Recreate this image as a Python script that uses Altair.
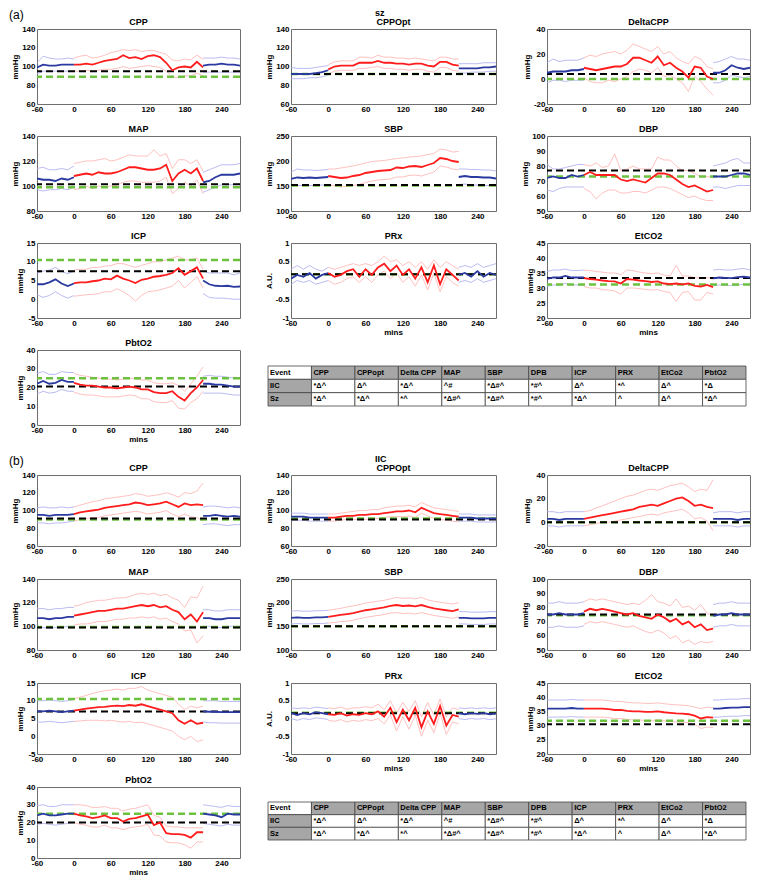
import altair as alt
import pandas as pd

FONT = "Liberation Sans"
BLUE = "#2b3aa0"
RED = "#ff1c1c"
LBLUE = "#a9a9ee"
LRED = "#ffb0b0"
GREEN = "#6cc13f"
BLACK = "#000000"
GRAY = "#a6a6a6"

# ---------------- time axes (minutes) ----------------
X_PRE = [-60, -50, -40, -30, -20, -10, 0]
X_EVT = [0, 10, 20, 30, 40, 50, 60, 70, 80, 90, 100, 110, 120, 130, 140, 150, 160, 170, 180, 190, 200, 210]
X_POST = [210, 220, 230, 240, 250, 260, 270]
X_TICKS = [-60, 0, 60, 120, 180, 240]

# ---------------- (a) sz ----------------
A_CPP_M = [99, 102, 101, 101, 102, 102, 102,
           102, 102, 103, 102, 104, 106, 107, 108, 112, 109, 110, 108, 111, 112, 110, 104, 96, 99, 100, 99, 105, 99,
           101, 102, 102, 103, 102, 102, 101]
A_CPP_U = [104, 111, 109, 108, 108, 109, 108,
           109, 111, 112, 109, 110, 112, 115, 116, 118, 117, 118, 116, 117, 117, 115, 113, 107, 106, 108, 107, 112, 108,
           109, 109, 109, 110, 109, 109, 108]
A_CPP_L = [92, 95, 95, 95, 95, 95, 95,
           95, 95, 96, 95, 96, 97, 97, 98, 100, 98, 99, 100, 101, 100, 99, 95, 89, 88, 90, 90, 93, 90,
           94, 94, 94, 94, 94, 94, 94]
A_CPP_T = [95, 89]

A_CPPOPT_M = [92, 92, 92, 92, 93, 94, 96,
              97, 100, 101, 101, 101, 104, 104, 104, 106, 104, 104, 103, 103, 102, 103, 103, 101, 100, 105, 105, 102, 101,
              98, 98, 98, 98, 99, 99, 100]
A_CPPOPT_U = [99, 98, 98, 98, 99, 100, 101,
              102, 105, 106, 106, 106, 110, 110, 109, 112, 110, 110, 109, 109, 108, 109, 108, 107, 106, 110, 110, 108, 108,
              103, 103, 103, 103, 104, 104, 104]
A_CPPOPT_L = [87, 87, 87, 88, 88, 89, 91,
              92, 95, 96, 96, 96, 98, 98, 99, 100, 98, 98, 97, 97, 96, 97, 97, 95, 94, 99, 99, 96, 95,
              93, 93, 94, 94, 94, 95, 95]
A_CPPOPT_T = [92, 92]

A_DCPP_M = [5, 6, 6, 6, 7, 7, 8,
            9, 8, 7, 8, 9, 10, 10, 12, 17, 17, 15, 13, 18, 11, 13, 9, 6, 1, 10, 9, 2, 0,
            5, 5, 7, 11, 9, 8, 9]
A_DCPP_U = [13, 16, 14, 15, 15, 15, 17,
            17, 19, 18, 20, 21, 22, 20, 23, 28, 26, 24, 22, 26, 20, 22, 17, 14, 12, 18, 16, 10, 8,
            13, 14, 16, 18, 16, 16, 15]
A_DCPP_L = [-3, -1, -1, -2, -1, -1, -1,
            1, -2, -3, -3, -1, -2, 0, 2, 6, 8, 7, 5, 9, 2, 3, 0, -3, -10, 2, -2, -8, -13,
            -3, -3, -1, 3, 2, 1, 2]
A_DCPP_T = [4, 0]

A_MAP_M = [106, 105, 105, 104, 106, 105, 107,
           108, 109, 110, 109, 111, 110, 110, 111, 113, 115, 115, 114, 113, 113, 114, 117, 104, 110, 113, 110, 114, 104,
           103, 104, 107, 109, 109, 109, 110]
A_MAP_U = [114, 115, 113, 113, 114, 113, 116,
           118, 119, 120, 120, 121, 122, 120, 121, 123, 125, 124, 124, 124, 129, 124, 126, 114, 121, 121, 118, 121, 112,
           111, 113, 115, 117, 117, 117, 118]
A_MAP_L = [97, 96, 97, 97, 98, 97, 99,
           97, 98, 100, 98, 100, 99, 100, 101, 103, 104, 104, 103, 103, 103, 104, 107, 94, 98, 103, 100, 105, 94,
           95, 97, 99, 101, 101, 101, 102]
A_MAP_T = [101.5, 99]

A_SBP_M = [164, 167, 166, 167, 166, 167, 168,
           170, 168, 166, 167, 170, 172, 176, 178, 180, 181, 182, 187, 186, 189, 190, 188, 192, 196, 206, 204, 200, 198,
           168, 170, 168, 168, 167, 167, 165]
A_SBP_U = [178, 184, 182, 182, 181, 182, 183,
           184, 184, 186, 188, 190, 193, 196, 199, 200, 201, 203, 205, 206, 208, 209, 210, 213, 215, 224, 222, 218, 219,
           184, 184, 183, 183, 182, 182, 180]
A_SBP_L = [150, 151, 151, 151, 151, 152, 153,
           152, 150, 148, 149, 151, 153, 157, 160, 162, 163, 164, 168, 168, 171, 172, 170, 174, 178, 190, 188, 184, 182,
           153, 154, 152, 152, 151, 151, 150]
A_SBP_T = [152, 151]

A_DBP_M = [72, 73, 72, 72, 74, 73, 74,
           74, 76, 74, 74, 74, 74, 71, 70, 71, 70, 69, 72, 75, 75, 74, 71, 68, 66, 67, 65, 63, 64,
           73, 73, 73, 74, 75, 75, 74]
A_DBP_U = [81, 78, 78, 79, 80, 81, 81,
           81, 80, 82, 79, 80, 88, 77, 78, 80, 78, 78, 78, 86, 84, 84, 80, 77, 77, 75, 73, 73, 72,
           80, 81, 82, 84, 85, 82, 82]
A_DBP_L = [64, 63, 65, 66, 66, 66, 66,
           65, 63, 58, 62, 64, 64, 62, 62, 63, 63, 62, 64, 66, 66, 65, 63, 61, 59, 60, 58, 57, 57,
           66, 66, 65, 66, 67, 67, 67]
A_DBP_T = [77, 73]

A_ICP_M = [4, 4, 4.5, 5.3, 4.2, 3.5, 4.2,
           4.3, 4.5, 4.5, 4.8, 5, 5.5, 5.3, 6.3, 5.5, 5, 4.3, 5.2, 5.5, 6, 6.2, 6.5, 7, 8.3, 6.5, 7.5, 8.5, 5.5,
           5, 4, 3.6, 3.5, 3.6, 3.3, 3.4]
A_ICP_U = [7, 7.5, 7.8, 8.5, 7.5, 6.8, 7.5,
           7.8, 8, 8, 8.5, 8.5, 8.8, 9, 9.5, 9.5, 9, 8.5, 9, 9.5, 10, 10, 10.5, 11, 11.5, 10.5, 10.5, 11, 8,
           7.5, 7, 7, 7, 7, 6.5, 7]
A_ICP_L = [1.2, 0.5, 1, 2, 1, 0.3, 1,
           0.8, 1, 1.2, 1.3, 1.5, 2, 2, 2.8, 2, 1, -0.5, 1, 2, 2.2, 2.5, 3, 3.5, 5, 3, 4.5, 6, 3,
           1.5, 0.5, 0.3, 0.3, 0.2, 0, 0]
A_ICP_T = [7.5, 10.5]

A_PRX_M = [0.05, 0.15, 0.1, 0.2, 0.05, 0.15, 0.2,
           0.2, 0.1, 0.15, 0.25, 0.3, 0.1, 0.3, 0.15, 0.35, 0.45, 0.25, 0.4, 0.15, 0.3, 0.05, 0.35, -0.05, 0.4, -0.1, 0.3, 0.15, 0.0,
           0.15, 0.2, 0.1, 0.25, 0.1, 0.2, 0.15]
A_PRX_U = [0.3, 0.4, 0.3, 0.4, 0.3, 0.25, 0.35,
           0.35, 0.3, 0.35, 0.4, 0.45, 0.4, 0.45, 0.4, 0.5, 0.65, 0.5, 0.55, 0.4, 0.5, 0.35, 0.5, 0.3, 0.55, 0.35, 0.5, 0.4, 0.3,
           0.35, 0.4, 0.35, 0.45, 0.35, 0.4, 0.45]
A_PRX_L = [-0.1, 0.0, -0.05, 0.0, -0.1, -0.05, 0.0,
           0.0, -0.1, -0.05, 0.05, 0.1, -0.05, 0.1, -0.05, 0.15, 0.25, 0.05, 0.2, -0.05, 0.1, -0.15, 0.15, -0.25, 0.2, -0.3, 0.1, -0.05, -0.15,
           -0.05, 0.0, -0.05, 0.05, -0.05, 0.0, 0.05]
A_PRX_T = [0.17, 0.17]

A_ETCO2_M = [33, 33.5, 33.5, 34, 33.5, 33.5, 33.5,
             33.3, 33, 32.8, 32.5, 32.3, 32.2, 31.5, 33, 32.8, 32.5, 32.3, 32, 32.2, 31.5, 31.3, 31.5, 31.2, 31.5, 30.7, 30.5, 31, 30.3,
             33.2, 33.5, 33.4, 33.3, 33.6, 33.8, 33.5]
A_ETCO2_U = [35.5, 36, 36, 36.3, 35.8, 35.8, 36,
             36, 35.8, 35.5, 35.3, 35, 35, 34.5, 36, 35.8, 35.3, 35, 34.8, 35, 34.3, 34, 37.5, 34, 34, 33.5, 33.3, 33.5, 33,
             36, 36.2, 36, 36, 36.3, 36.5, 36]
A_ETCO2_L = [30.5, 31, 31, 31.5, 31, 31, 31,
             30.5, 30, 30, 29.5, 29.3, 29, 28, 30, 30, 29.8, 29.5, 29.3, 29.5, 28.8, 28.5, 25.5, 28.5, 28.8, 26, 26, 28.5, 28,
             30.8, 31, 31, 30.8, 31, 31.3, 31]
A_ETCO2_T = [33.3, 31.2]

A_PBTO2_M = [22, 23.5, 22, 22.5, 24, 23, 23,
             22.5, 21.5, 21, 21, 20.5, 20, 20, 19.5, 20, 20.5, 20, 19, 19, 17.5, 17, 17, 18, 15, 13, 17, 20, 24,
             22, 22, 21.5, 21.5, 21, 20.5, 20.5]
A_PBTO2_U = [27.5, 28.5, 27, 27, 28.5, 28, 28,
             27.5, 26.5, 26, 25.5, 25, 24.5, 24.5, 24, 24.5, 25, 24.5, 24, 24, 22.5, 22, 22, 22.5, 21, 18, 22, 26, 31,
             26, 26.5, 26, 26, 25.5, 25, 25]
A_PBTO2_L = [16.5, 18, 17, 17.5, 19, 18, 18,
             17.5, 16.5, 16, 16, 15.5, 15, 15, 15, 15.5, 16, 15.5, 14, 14, 12.5, 12, 12, 13, 9, 8.5, 12, 14, 18,
             17, 17, 17, 17, 16.5, 16, 16]
A_PBTO2_T = [20.5, 25]

# ---------------- (b) IIC ----------------
B_CPP_M = [95, 95, 94, 95, 95, 95, 96,
           96, 98, 99, 100, 101, 103, 104, 105, 106, 107, 109, 108, 106, 107, 108, 110, 107, 104, 108, 106, 107, 106,
           94, 94, 95, 94, 93, 94, 93]
B_CPP_U = [103, 104, 103, 103, 104, 103, 104,
           104, 106, 108, 110, 111, 113, 114, 115, 116, 117, 119, 118, 116, 117, 118, 120, 118, 115, 120, 119, 122, 131,
           104, 105, 105, 104, 103, 104, 103]
B_CPP_L = [86, 86, 85, 86, 86, 87, 88,
           88, 90, 91, 92, 92, 94, 95, 96, 97, 98, 99, 98, 96, 97, 98, 100, 96, 93, 96, 93, 92, 88,
           84, 85, 85, 84, 83, 84, 84]
B_CPP_T = [91, 90]

B_CPPOPT_M = [93, 93, 93, 92, 92, 92, 92,
              92, 92, 93, 94, 94, 95, 95, 96, 96, 97, 98, 99, 99, 100, 98, 103, 100, 97, 96, 95, 94, 93,
              92, 92, 92, 91, 91, 91, 91]
B_CPPOPT_U = [97, 97, 97, 96, 96, 96, 96,
              96, 96, 97, 98, 99, 100, 100, 101, 101, 103, 104, 105, 105, 106, 104, 109, 106, 103, 102, 101, 100, 99,
              96, 96, 96, 95, 95, 95, 95]
B_CPPOPT_L = [89, 89, 89, 88, 88, 88, 88,
              88, 88, 89, 90, 90, 90, 90, 91, 91, 92, 93, 93, 93, 94, 92, 97, 94, 91, 90, 89, 88, 87,
              88, 88, 88, 87, 87, 87, 87]
B_CPPOPT_T = [90, 91]

B_DCPP_M = [3, 3, 2, 3, 3, 3, 3,
            3, 4, 5, 6, 7, 8, 9, 10, 11, 13, 14, 15, 14, 16, 18, 20, 21, 18, 14, 15, 13, 12,
            3, 3, 3, 3, 2, 3, 3]
B_DCPP_U = [9, 9, 8, 9, 9, 9, 9,
            9, 10, 12, 14, 16, 18, 20, 22, 23, 25, 27, 28, 27, 29, 31, 32, 33, 30, 26, 28, 27, 36,
            8, 9, 9, 9, 8, 9, 9]
B_DCPP_L = [-3, -3, -4, -3, -3, -3, -3,
            -3, -2, -1, 0, 0, 1, 2, 3, 4, 5, 6, 7, 6, 8, 9, 10, 11, 8, 3, 4, 1, -7,
            -3, -3, -3, -3, -4, -3, -3]
B_DCPP_T = [0, 0]

B_MAP_M = [107, 107, 106, 107, 107, 108, 108,
           109, 110, 111, 112, 113, 113, 114, 115, 115, 116, 117, 118, 117, 118, 116, 117, 114, 112, 106, 110, 104, 112,
           107, 107, 106, 106, 107, 107, 107]
B_MAP_U = [115, 115, 114, 115, 115, 116, 116,
           117, 118, 120, 121, 122, 122, 123, 124, 124, 125, 127, 128, 127, 128, 126, 127, 124, 122, 116, 125, 124, 134,
           114, 114, 113, 113, 114, 114, 114]
B_MAP_L = [99, 99, 98, 99, 99, 100, 100,
           101, 102, 102, 103, 104, 104, 105, 106, 106, 107, 107, 108, 107, 108, 106, 107, 104, 102, 96, 97, 86, 92,
           100, 100, 99, 99, 100, 100, 100]
B_MAP_T = [99, 99.5]

B_SBP_M = [168, 169, 168, 168, 169, 169, 170,
           170, 172, 174, 176, 178, 181, 184, 186, 188, 190, 193, 195, 193, 194, 192, 195, 191, 188, 186, 184, 182, 186,
           168, 168, 167, 167, 167, 168, 168]
B_SBP_U = [182, 183, 182, 182, 183, 183, 184,
           184, 186, 188, 191, 193, 196, 199, 201, 203, 205, 208, 211, 209, 210, 208, 211, 206, 203, 201, 199, 197, 200,
           181, 181, 180, 180, 180, 181, 181]
B_SBP_L = [155, 156, 155, 155, 156, 156, 157,
           157, 158, 160, 161, 163, 166, 169, 171, 173, 175, 178, 179, 177, 178, 176, 179, 176, 173, 171, 169, 167, 170,
           155, 155, 154, 154, 154, 155, 155]
B_SBP_T = [150, 150]

B_DBP_M = [75, 75, 76, 75, 75, 75, 76,
           77, 79, 78, 79, 78, 77, 76, 75, 76, 74, 73, 72, 75, 73, 70, 72, 68, 70, 66, 68, 64, 65,
           74, 75, 75, 76, 75, 75, 75]
B_DBP_U = [83, 83, 84, 83, 83, 83, 84,
           84, 86, 85, 86, 85, 84, 83, 82, 83, 82, 85, 89, 84, 83, 81, 86, 80, 81, 78, 82, 76, 74,
           82, 83, 83, 84, 83, 83, 83]
B_DBP_L = [66, 66, 67, 66, 66, 66, 67,
           68, 70, 69, 70, 69, 68, 67, 66, 67, 65, 63, 62, 64, 62, 58, 60, 55, 57, 54, 56, 55, 56,
           66, 67, 67, 68, 67, 67, 67]
B_DBP_T = [75, 74.5]

B_ICP_M = [7, 7, 7.2, 7, 6.8, 7, 7.2,
           7.2, 7.5, 7.8, 8, 8.2, 8.3, 8.5, 8.6, 8.5, 8.8, 8.6, 9, 8.5, 8, 7.5, 7, 6.5, 4.5, 3.5, 4.5, 3.5, 3.8,
           7, 6.9, 6.9, 6.8, 6.8, 6.8, 6.8]
B_ICP_U = [10, 10, 10.2, 10, 9.8, 10, 10.3,
           10.5, 11, 11.5, 12, 12.5, 12.8, 13, 13.3, 13, 13.5, 13.5, 14, 13, 12.5, 12, 11.5, 11, 9, 7.5, 8.5, 8, 8.5,
           10, 10, 10, 9.8, 9.8, 9.8, 9.8]
B_ICP_L = [4, 4, 4.2, 4, 3.8, 4, 4.2,
           4.2, 4.3, 4.5, 4.5, 4.5, 4.3, 4.5, 4.2, 4, 4.2, 3.8, 4, 3.5, 3, 2.5, 2, 1.5, 0, -1, 0, -1.5, -1,
           4, 3.8, 3.8, 3.7, 3.7, 3.7, 3.7]
B_ICP_T = [7, 10.5]

B_PRX_M = [0.15, 0.1, 0.15, 0.12, 0.18, 0.15, 0.12,
           0.12, 0.1, 0.15, 0.08, 0.12, 0.1, 0.15, 0.12, 0.2, 0.05, 0.3, -0.1, 0.25, -0.05, 0.3, -0.25, 0.2, -0.15, 0.35, -0.2, 0.1, 0.05,
           0.15, 0.12, 0.15, 0.13, 0.15, 0.12, 0.14]
B_PRX_U = [0.3, 0.28, 0.3, 0.28, 0.32, 0.3, 0.28,
           0.3, 0.28, 0.32, 0.26, 0.3, 0.3, 0.33, 0.3, 0.4, 0.25, 0.5, 0.15, 0.45, 0.2, 0.5, 0.05, 0.45, 0.1, 0.55, 0.05, 0.3, 0.25,
           0.3, 0.28, 0.3, 0.28, 0.3, 0.28, 0.3]
B_PRX_L = [0, -0.05, 0, -0.03, 0.02, 0, -0.03,
           -0.05, -0.08, -0.03, -0.1, -0.05, -0.08, -0.03, -0.06, 0, -0.15, 0.1, -0.35, 0.05, -0.3, 0.1, -0.5, -0.05, -0.4, 0.15, -0.45, -0.1, -0.15,
           0, -0.03, 0, -0.02, 0, -0.03, -0.01]
B_PRX_T = [0.15, 0.16]

B_ETCO2_M = [36, 36, 36, 36, 36.2, 36, 36,
             36, 36, 36, 36, 35.8, 35.5, 35.5, 35.2, 35, 35, 34.8, 34.8, 35, 34.7, 34.5, 34.3, 34.2, 34, 33.5, 32.5, 33, 32.8,
             36, 36, 36.2, 36.3, 36.3, 36.5, 36.5]
B_ETCO2_U = [39, 39, 39, 39, 39.2, 39, 39,
             39, 39, 39, 39, 38.8, 38.5, 38.5, 38.2, 38, 38, 37.8, 37.8, 38, 37.7, 37.5, 37.3, 37.2, 37, 36.5, 36, 36.5, 36.3,
             39, 39, 39.2, 39.3, 39.3, 39.5, 39.5]
B_ETCO2_L = [33, 33, 33, 33, 33.2, 33, 33,
             33, 33, 33, 33, 32.8, 32.5, 32.5, 32.2, 32, 32, 31.8, 31.8, 32, 31.7, 31.5, 31.3, 31.2, 31, 30.5, 29, 29.5, 29.3,
             33, 33, 33.2, 33.3, 33.3, 33.5, 33.5]
B_ETCO2_T = [30.5, 31.7]

B_PBTO2_M = [24, 25, 24, 24, 24.5, 25, 25,
             25, 24, 23.5, 22.5, 23, 24, 22.5, 22.5, 20.5, 22, 22.5, 23.5, 24.5, 18.5, 20, 14, 13.5, 13.5, 13, 11.5, 14.5, 14.5,
             25, 24.5, 24, 23, 25, 24.5, 24.5]
B_PBTO2_U = [29.5, 30, 29, 29, 30, 30, 30,
             30, 30, 29.5, 28.5, 28.5, 29, 28, 28, 26.5, 27.5, 28, 29, 30, 24, 23, 18, 17.5, 17.5, 17, 17, 17, 17,
             30, 29.5, 29, 28.5, 29.5, 29, 29]
B_PBTO2_L = [19, 19.5, 19, 18.5, 19, 19.5, 20,
             20, 19, 18.5, 17.5, 17.5, 18.5, 17, 17, 16, 17, 17.5, 18, 19, 13, 12.5, 9, 8.5, 8.5, 7.5, 5.5, 9, 9,
             19.5, 19, 18.5, 18, 19, 18.5, 18.5]
B_PBTO2_T = [20, 25]

# ---------------- summary table ----------------
TABLE_HEAD = ["Event", "CPP", "CPPopt", "Delta CPP", "MAP", "SBP", "DPB", "ICP", "PRX", "EtCo2", "PbtO2"]
TABLE_IIC = ["IIC", "*Δ^", "Δ^", "*Δ^", "^#", "*Δ#^", "*#^", "Δ^", "*^", "Δ^", "*Δ"]
TABLE_SZ = ["Sz", "*Δ^", "*Δ^", "*^", "*Δ#^", "*Δ#^", "*#^", "*Δ^", "^", "Δ^", "*Δ^"]
TABLE_ROWS = ["Event", "IIC", "Sz"]

W1, W2, W3 = 203, 205, 203


def build_df(mean, up, low):
    rows = []
    segs = [("pre", X_PRE, 0, 7, "b"), ("evt", X_EVT, 7, 29, "r"), ("post", X_POST, 29, 36, "b")]
    for seg, xs, a, b, c in segs:
        for nm, arr, kind in (("m", mean, "m"), ("u", up, "band"), ("l", low, "band")):
            for t, v in zip(xs, arr[a:b]):
                rows.append({"t": t, "v": v, "grp": seg + nm, "kind": kind + c})
    return pd.DataFrame(rows)


def text_layer(s, px, py, fs, fw, color=BLACK, align="left"):
    return alt.Chart(pd.DataFrame({"s": [s]})).mark_text(
        align=align, baseline="middle", fontSize=fs, fontWeight=fw, font=FONT, color=color
    ).encode(text="s:N", x=alt.value(px), y=alt.value(py))


def panel(title, ylab, dom, yticks, mean, up, low, thr, width, h, mins=False, texts=None):
    df = build_df(mean, up, low)
    x = alt.X("t:Q", scale=alt.Scale(domain=[-60, 270], nice=False, zero=False),
              axis=alt.Axis(values=X_TICKS, title=None, labelExpr="datum.value + ''",
                            labelFlush=False, labelPadding=1))
    y = alt.Y("v:Q", scale=alt.Scale(domain=dom, nice=False, zero=False),
              axis=alt.Axis(values=yticks, title=ylab, labelExpr="datum.value + ''", labelFlush=False,
                            titlePadding=2, labelPadding=2))
    color = alt.Color("kind:N", scale=alt.Scale(domain=["bandb", "bandr", "mb", "mr"],
                                                range=[LBLUE, LRED, BLUE, RED]), legend=None)
    base = alt.Chart(df).encode(x=x, y=y, color=color, detail="grp:N")
    bands = base.transform_filter(
        alt.FieldOneOfPredicate(field="kind", oneOf=["bandb", "bandr"])).mark_line(strokeWidth=0.8, clip=True)
    means = base.transform_filter(
        alt.FieldOneOfPredicate(field="kind", oneOf=["mb", "mr"])).mark_line(strokeWidth=1.8, clip=True)
    thr_k = alt.Chart(pd.DataFrame({"v": [thr[0]]})).mark_rule(
        color=BLACK, strokeWidth=2, strokeDash=[7, 4]).encode(y=y)
    thr_g = alt.Chart(pd.DataFrame({"v": [thr[1]]})).mark_rule(
        color=GREEN, strokeWidth=2.5, strokeDash=[7, 4]).encode(y=y)
    layers = [bands, thr_g, thr_k, means,
              text_layer(title, width / 2, -7, 9, "bold", align="center"),
              text_layer("mins", width / 2, h + 15, 8, "bold",
                         color=BLACK if mins else "#ffffff", align="center")]
    for (s, px, py, fs, fw) in (texts or []):
        layers.append(text_layer(s, px, py, fs, fw))
    return alt.layer(*layers).properties(width=width, height=h)


def table_chart(h):
    rows = []
    for r, vals in zip(TABLE_ROWS, (TABLE_HEAD, TABLE_IIC, TABLE_SZ)):
        for i, (hd, v) in enumerate(zip(TABLE_HEAD, vals)):
            shaded = (r == "Event") != (i == 0)
            rows.append({"col": hd, "row": r, "txt": v, "fill": GRAY if shaded else "#ffffff"})
    df = pd.DataFrame(rows)
    xsc = alt.Scale(domain=TABLE_HEAD, paddingInner=0, paddingOuter=0)
    ys = alt.Y("row:N", scale=alt.Scale(domain=TABLE_ROWS, range=[round(0.215 * h), round(0.74 * h)],
                                        paddingInner=0, paddingOuter=0), axis=None)
    cells = alt.Chart(df).mark_rect(stroke="#444444", strokeWidth=0.8).encode(
        x=alt.X("col:N", scale=xsc, axis=None), y=ys, fill=alt.Fill("fill:N", scale=None))
    txt = alt.Chart(df).mark_text(align="left", dx=2, fontSize=7.5, fontWeight="bold", font=FONT,
                                  color=BLACK).encode(
        x=alt.X("col:N", scale=xsc, axis=None, bandPosition=0), y=ys, text="txt:N")
    return alt.layer(cells, txt).properties(width=478, height=h,
                                            view=alt.ViewBackground(stroke="transparent"))


def section(P, letter, name, h, spacing):
    r1 = alt.hconcat(
        panel("CPP", "mmHg", [60, 140], [60, 80, 100, 120, 140], *P["CPP"], W1, h,
              texts=[(letter, -28, -14, 12, "normal")]),
        panel("CPPOpt", "mmHg", [60, 140], [60, 80, 100, 120, 140], *P["CPPOPT"], W2, h,
              texts=[(name, 84, -16, 9, "bold")]),
        panel("DeltaCPP", "mmHg", [-20, 40], [-20, 0, 20, 40], *P["DCPP"], W3, h),
        spacing=51, bounds="flush")
    r2 = alt.hconcat(
        panel("MAP", "mmHg", [80, 140], [80, 100, 120, 140], *P["MAP"], W1, h),
        panel("SBP", "mmHg", [100, 250], [100, 150, 200, 250], *P["SBP"], W2, h),
        panel("DBP", "mmHg", [50, 100], [50, 60, 70, 80, 90, 100], *P["DBP"], W3, h),
        spacing=51, bounds="flush")
    r3 = alt.hconcat(
        panel("ICP", "mmHg", [-5, 15], [-5, 0, 5, 10, 15], *P["ICP"], W1, h),
        panel("PRx", "A.U.", [-1, 1], [-1, -0.5, 0, 0.5, 1], *P["PRX"], W2, h, mins=True),
        panel("EtCO2", "mmHg", [20, 45], [20, 25, 30, 35, 40, 45], *P["ETCO2"], W3, h, mins=True),
        spacing=51, bounds="flush")
    r4 = alt.hconcat(
        panel("PbtO2", "mmHg", [0, 40], [0, 10, 20, 30, 40], *P["PBTO2"], W1, h, mins=True),
        table_chart(h),
        spacing=28, bounds="flush")
    return alt.vconcat(r1, r2, r3, r4, spacing=spacing)


PA = {
    "CPP": (A_CPP_M, A_CPP_U, A_CPP_L, A_CPP_T),
    "CPPOPT": (A_CPPOPT_M, A_CPPOPT_U, A_CPPOPT_L, A_CPPOPT_T),
    "DCPP": (A_DCPP_M, A_DCPP_U, A_DCPP_L, A_DCPP_T),
    "MAP": (A_MAP_M, A_MAP_U, A_MAP_L, A_MAP_T),
    "SBP": (A_SBP_M, A_SBP_U, A_SBP_L, A_SBP_T),
    "DBP": (A_DBP_M, A_DBP_U, A_DBP_L, A_DBP_T),
    "ICP": (A_ICP_M, A_ICP_U, A_ICP_L, A_ICP_T),
    "PRX": (A_PRX_M, A_PRX_U, A_PRX_L, A_PRX_T),
    "ETCO2": (A_ETCO2_M, A_ETCO2_U, A_ETCO2_L, A_ETCO2_T),
    "PBTO2": (A_PBTO2_M, A_PBTO2_U, A_PBTO2_L, A_PBTO2_T),
}
PB = {
    "CPP": (B_CPP_M, B_CPP_U, B_CPP_L, B_CPP_T),
    "CPPOPT": (B_CPPOPT_M, B_CPPOPT_U, B_CPPOPT_L, B_CPPOPT_T),
    "DCPP": (B_DCPP_M, B_DCPP_U, B_DCPP_L, B_DCPP_T),
    "MAP": (B_MAP_M, B_MAP_U, B_MAP_L, B_MAP_T),
    "SBP": (B_SBP_M, B_SBP_U, B_SBP_L, B_SBP_T),
    "DBP": (B_DBP_M, B_DBP_U, B_DBP_L, B_DBP_T),
    "ICP": (B_ICP_M, B_ICP_U, B_ICP_L, B_ICP_T),
    "PRX": (B_PRX_M, B_PRX_U, B_PRX_L, B_PRX_T),
    "ETCO2": (B_ETCO2_M, B_ETCO2_U, B_ETCO2_L, B_ETCO2_T),
    "PBTO2": (B_PBTO2_M, B_PBTO2_U, B_PBTO2_L, B_PBTO2_T),
}

chart = alt.vconcat(
    section(PA, "(a)", "sz", 75, 0),
    section(PB, "(b)", "IIC", 71, 1),
    spacing=9,
).properties(padding=0).configure_view(
    stroke="#6e6e6e", strokeWidth=1
).configure_axis(
    labelFont=FONT, titleFont=FONT, labelFontSize=8, titleFontSize=8,
    labelFontWeight="bold", titleFontWeight="bold", labelColor=BLACK, titleColor=BLACK,
    grid=False, ticks=False, domain=False
)

chart.save("out.html", embed_options={"renderer": "svg", "actions": False})
